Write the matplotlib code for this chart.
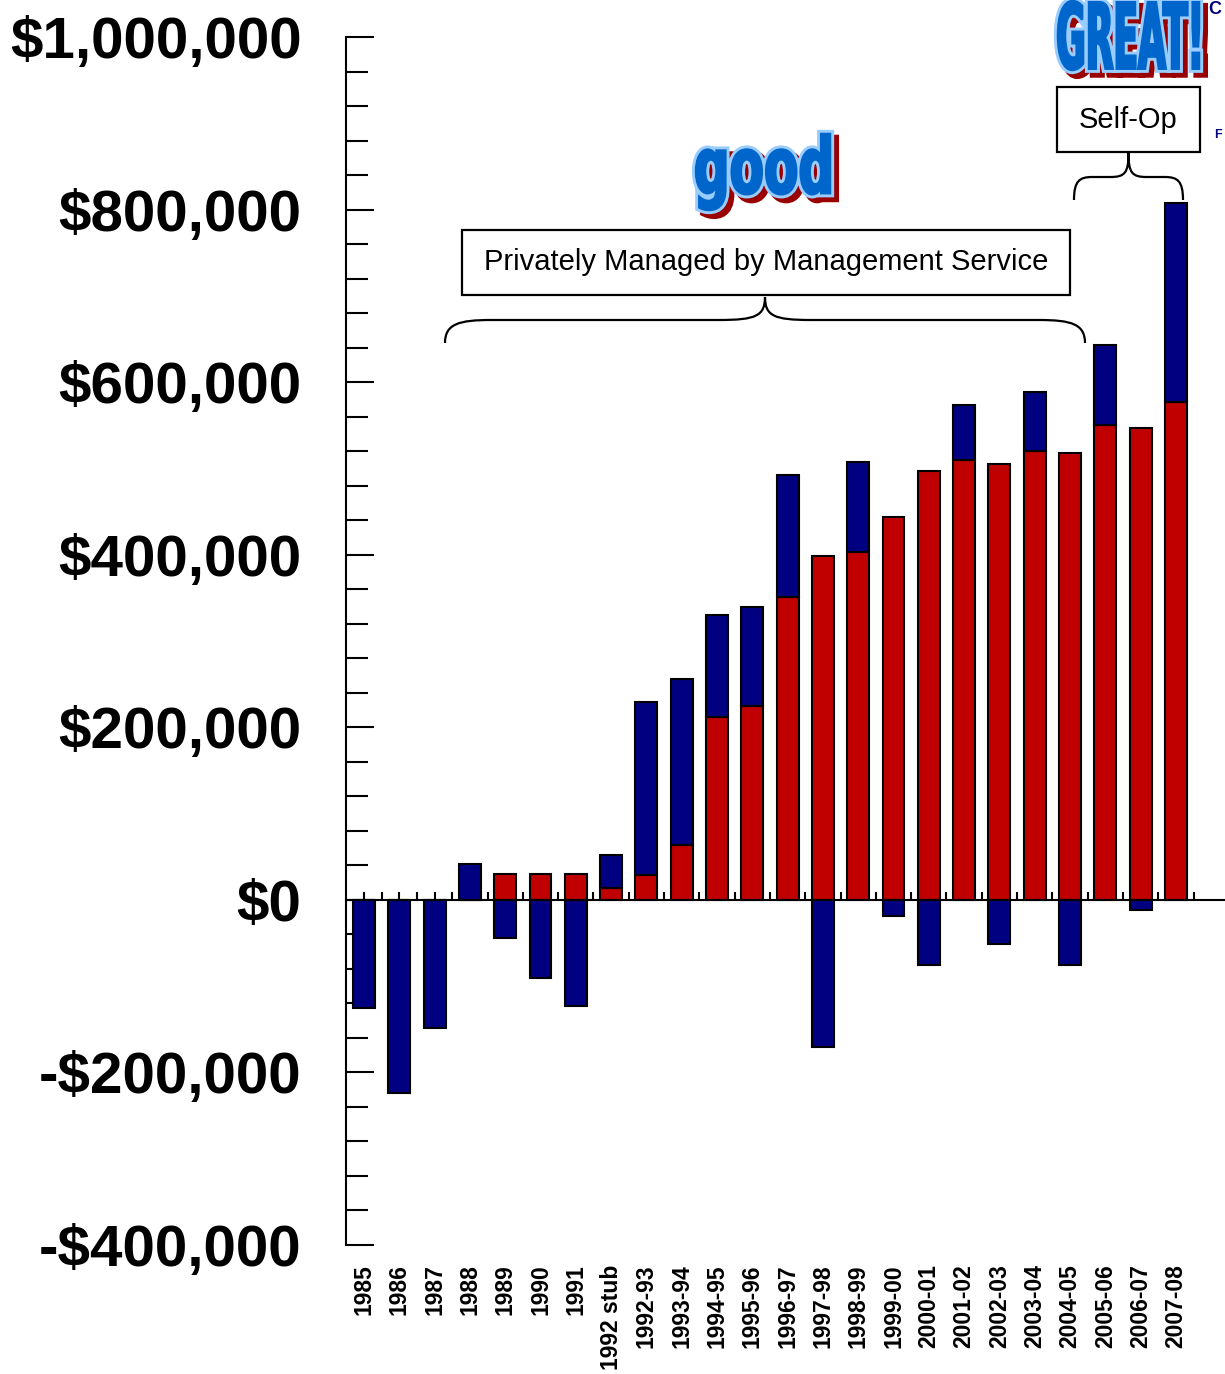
import numpy as np
import matplotlib
matplotlib.use("Agg")
import matplotlib.pyplot as plt
import matplotlib.patheffects as pe
from matplotlib.path import Path
from matplotlib.patches import PathPatch, Rectangle
from matplotlib.textpath import TextPath
from matplotlib.font_manager import FontProperties
from matplotlib.transforms import IdentityTransform, Affine2D

# ─────────────────────────────────────────────────────────────
# DATA  (dollars)
# ─────────────────────────────────────────────────────────────
years = ["1985", "1986", "1987", "1988", "1989", "1990", "1991", "1992 stub",
         "1992-93", "1993-94", "1994-95", "1995-96", "1996-97", "1997-98",
         "1998-99", "1999-00", "2000-01", "2001-02", "2002-03", "2003-04",
         "2004-05", "2005-06", "2006-07", "2007-08"]

# red base (positive part)
red_vals = [0, 0, 0, 0, 30000, 30000, 30000, 14000,
            29000, 64000, 212000, 225000, 351000, 399000,
            403000, 444000, 497000, 510000, 505000, 520000,
            518000, 550000, 547000, 577000]

# blue segment: >0 stacked on red, <0 hangs from zero
blue_vals = [-125000, -224000, -148000, 42000, -44000, -90000, -123000, 38000,
             200000, 192000, 118000, 114000, 141000, -171000,
             105000, -19000, -76000, 64000, -51000, 69000,
             -76000, 93000, -12000, 231000]

y_ticks = [-400000, -200000, 0, 200000, 400000, 600000, 800000, 1000000]
y_labels = ["-$400,000", "-$200,000", "$0", "$200,000", "$400,000",
            "$600,000", "$800,000", "$1,000,000"]

RED = "#c00000"
BLUE = "#000080"

W, H = 1225, 1374
fig = plt.figure(figsize=(W / 100, H / 100), dpi=100)
plt.rcParams["font.family"] = ["Liberation Sans", "DejaVu Sans"]

ax = fig.add_axes([346 / W, (H - 1245) / H, 1 - 346 / W, (1245 - 37) / H])

x = np.arange(len(years))
red = np.array(red_vals)
blue = np.array(blue_vals)
blue_bottom = np.where(blue > 0, red, 0)

ax.bar(x, red, width=0.62, color=RED, edgecolor="black", linewidth=1.5, zorder=2)
ax.bar(x, blue, bottom=blue_bottom, width=0.62, color=BLUE,
       edgecolor="black", linewidth=1.5, zorder=2)

ax.set_xlim(-0.51, 24.39)
ax.set_ylim(-400000, 1000000)

# axes styling
ax.spines["top"].set_visible(False)
ax.spines["right"].set_visible(False)
ax.spines["bottom"].set_position(("data", 0))
ax.spines["bottom"].set_linewidth(1.5)
ax.spines["left"].set_linewidth(1.5)

ax.set_yticks(y_ticks)
ax.set_yticklabels(y_labels, fontsize=42, fontweight="bold")
ax.set_yticks(np.arange(-400000, 1000001, 40000), minor=True)
ax.tick_params(axis="y", which="major", direction="in", length=20, width=1.5, pad=32)
ax.tick_params(axis="y", which="minor", direction="in", length=16, width=1.5)

ax.set_xticks(x)
ax.set_xticks(x + 0.5, minor=True)
ax.tick_params(axis="x", which="both", direction="in", length=6, width=1.5,
               labelbottom=False)

# category labels along the bottom of the plot
sec = ax.secondary_xaxis(0)
sec.set_xticks(x)
sec.set_xticklabels(years, rotation=90, fontsize=16.5, fontweight="bold")
sec.tick_params(length=0, pad=14)
sec.spines["bottom"].set_visible(False)


# ─────────────────────────────────────────────────────────────
# ANNOTATIONS (pixel coords, origin top-left)
# ─────────────────────────────────────────────────────────────
def px(xp, yp):
    return (xp, H - yp)


def brace(x0, x1, ytip, ybar, yend):
    xm = (x0 + x1) / 2
    r = min((yend - ybar) * 2.0, (x1 - x0) / 6)
    t = min((ybar - ytip) * 2.0, (x1 - x0) / 6)
    verts = [px(x0, yend),
             px(x0, ybar + 4), px(x0 + r * 0.3, ybar), px(x0 + r, ybar),
             px(xm - t, ybar),
             px(xm - t * 0.2, ybar), px(xm, ybar - 4), px(xm, ytip),
             px(xm, ybar - 4), px(xm + t * 0.2, ybar), px(xm + t, ybar),
             px(x1 - r, ybar),
             px(x1 - r * 0.3, ybar), px(x1, ybar + 4), px(x1, yend)]
    codes = [Path.MOVETO,
             Path.CURVE4, Path.CURVE4, Path.CURVE4,
             Path.LINETO,
             Path.CURVE4, Path.CURVE4, Path.CURVE4,
             Path.CURVE4, Path.CURVE4, Path.CURVE4,
             Path.LINETO,
             Path.CURVE4, Path.CURVE4, Path.CURVE4]
    fig.add_artist(PathPatch(Path(verts, codes), fill=False, lw=1.6,
                             edgecolor="black", transform=IdentityTransform()))


def label_box(x0, y0, x1, y1, text):
    fig.add_artist(Rectangle(px(x0, y1), x1 - x0, y1 - y0, fill=True,
                             facecolor="white", edgecolor="black", lw=1.6,
                             transform=IdentityTransform()))
    fig.text((x0 + x1) / 2 / W, 1 - (y0 + y1) / 2 / H, text, fontsize=21,
             ha="center", va="center")


def fancy_word(word, x0, y0, x1, y1):
    fp = FontProperties(family="Liberation Sans Narrow", weight="bold")
    tp = TextPath((0, 0), word, size=100, prop=fp)
    ext = tp.get_extents()
    sx = (x1 - x0) / ext.width
    sy = (y1 - y0) / ext.height
    tr = Affine2D().translate(-ext.x0, -ext.y0).scale(sx, sy).translate(x0, H - y1)
    path = tr.transform_path(tp)
    patch = PathPatch(path, facecolor="#0066cc", edgecolor="none",
                      transform=IdentityTransform())
    patch.set_path_effects([
        pe.Stroke(linewidth=6, foreground="#990000", offset=(3.5, -3.5)),
        pe.Stroke(linewidth=6, foreground="#99ccff"),
        pe.Stroke(linewidth=1.8, foreground="#0066cc"),
        pe.Normal()])
    fig.add_artist(patch)


brace(445, 1085, 297, 320, 343)
brace(1074, 1183, 153, 177, 200)
label_box(462, 230, 1070, 295, "Privately Managed by Management Service")
label_box(1057, 87, 1200, 152, "Self-Op")
fancy_word("good", 696, 134, 830, 210)
fancy_word("GREAT!", 1058, 1, 1199, 70)

# fragments at the right edge
fig.text(1208 / W, 1 - 1 / H, "C", fontsize=13, fontweight="bold", color=BLUE,
         va="top", ha="left")
fig.text(1214 / W, 1 - 135 / H, "F", fontsize=9, fontweight="bold", color=BLUE,
         va="center", ha="left")

fig.savefig("out.png", dpi=100)
